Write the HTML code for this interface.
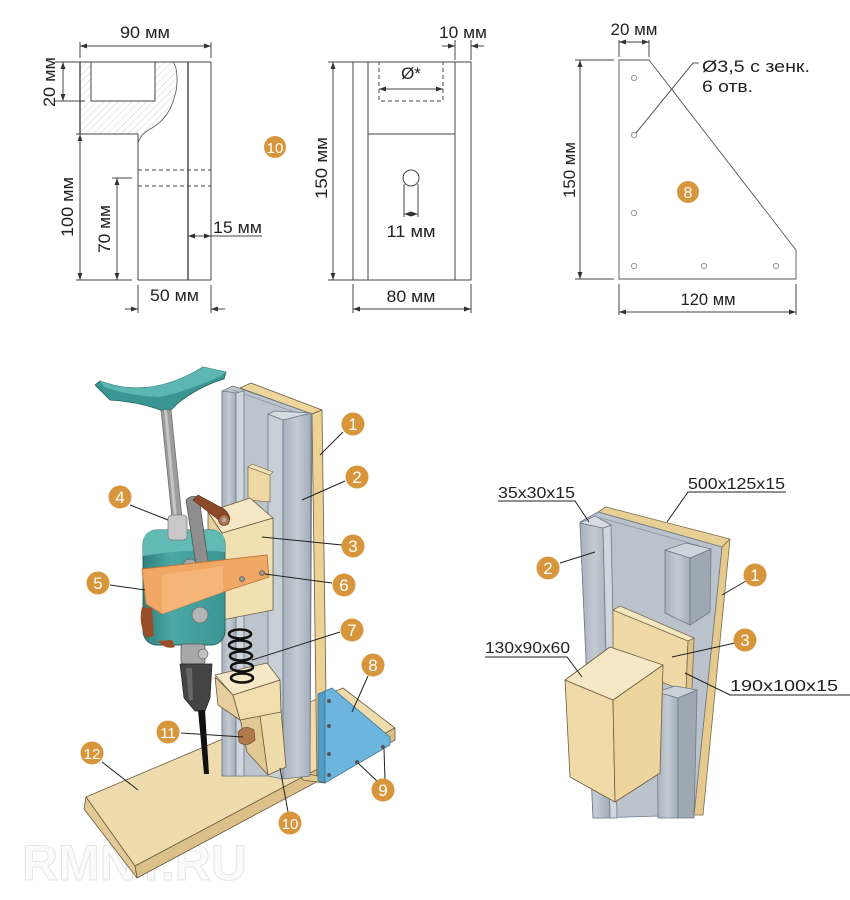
<!DOCTYPE html>
<html><head><meta charset="utf-8">
<style>
html,body{margin:0;padding:0;background:#fff}
svg{display:block}
text{font-family:"Liberation Sans",Arial,sans-serif;fill:#222}
</style></head>
<body>
<svg width="850" height="900" viewBox="0 0 850 900" xmlns="http://www.w3.org/2000/svg">
<defs>
<marker id="a" viewBox="0 0 10 10" refX="10" refY="5" markerWidth="8" markerHeight="7" orient="auto-start-reverse" markerUnits="userSpaceOnUse"><path d="M0,1.5 L10,5 L0,8.5 z" fill="#333"/></marker>
<pattern id="h" width="5" height="5" patternUnits="userSpaceOnUse" patternTransform="rotate(45)"><line x1="0" y1="0" x2="0" y2="5" stroke="#cfcfcf" stroke-width="1"/></pattern>
<linearGradient id="al" x1="0" y1="0" x2="1" y2="0"><stop offset="0" stop-color="#a7b1bc"/><stop offset="0.5" stop-color="#c3cbd3"/><stop offset="1" stop-color="#a3adb9"/></linearGradient>
<linearGradient id="tl" x1="0" y1="0" x2="1" y2="0"><stop offset="0" stop-color="#2f7f7c"/><stop offset="0.35" stop-color="#4aa9a5"/><stop offset="1" stop-color="#3a9592"/></linearGradient>
</defs>

<!-- ============ DRAWING 1 ============ -->
<g stroke="#444" stroke-width="1" fill="none">
<path d="M80,62 L173,62 C178,68 178,85 175,95 C171,112 162,122 152,128 C146,131 140,136 138,143 L138,134 L80,134 Z" fill="url(#h)" stroke="none"/>
<path d="M173,62 C178,68 178,85 175,95 C171,112 162,122 152,128 C146,131 140,136 138,143" stroke="#555" stroke-width="0.8"/>
<rect x="91" y="62" width="64" height="39" fill="#fff"/>
<line x1="80" y1="62" x2="211" y2="62"/>
<line x1="80" y1="62" x2="80" y2="134" stroke-width="1.4"/>
<line x1="76" y1="134" x2="138" y2="134"/>
<line x1="138" y1="134" x2="138" y2="280"/>
<line x1="138" y1="280" x2="211" y2="280"/>
<line x1="211" y1="62" x2="211" y2="280"/>
<line x1="188" y1="62" x2="188" y2="280" stroke-width="1.4"/>
<line x1="138" y1="170" x2="211" y2="170" stroke-dasharray="4,3"/>
<line x1="138" y1="186" x2="211" y2="186" stroke-dasharray="4,3"/>
<!-- dims -->
<line x1="80" y1="42" x2="80" y2="58"/><line x1="211" y1="42" x2="211" y2="58"/>
<line x1="80" y1="46" x2="211" y2="46" marker-start="url(#a)" marker-end="url(#a)"/>
<line x1="55" y1="62" x2="80" y2="62"/><line x1="55" y1="101" x2="85" y2="101"/>
<line x1="63" y1="62" x2="63" y2="101" marker-start="url(#a)" marker-end="url(#a)"/>
<line x1="80" y1="134" x2="80" y2="280" marker-start="url(#a)" marker-end="url(#a)"/>
<line x1="76" y1="280" x2="132" y2="280"/>
<line x1="112" y1="178" x2="132" y2="178"/>
<line x1="117" y1="178" x2="117" y2="280" marker-start="url(#a)" marker-end="url(#a)"/>
<line x1="188" y1="236" x2="211" y2="236" marker-start="url(#a)" marker-end="url(#a)"/>
<line x1="211" y1="236" x2="262" y2="236"/>
<line x1="138" y1="285" x2="138" y2="313"/><line x1="211" y1="285" x2="211" y2="313"/>
<line x1="125" y1="309" x2="138" y2="309" marker-end="url(#a)"/>
<line x1="225" y1="309" x2="211" y2="309" marker-end="url(#a)"/>
</g>
<text x="145" y="38" font-size="17" text-anchor="middle" textLength="50" lengthAdjust="spacingAndGlyphs">90 мм</text>
<text transform="translate(55,82) rotate(-90)" font-size="17" text-anchor="middle" textLength="50" lengthAdjust="spacingAndGlyphs">20 мм</text>
<text transform="translate(73,207) rotate(-90)" font-size="17" text-anchor="middle" textLength="60" lengthAdjust="spacingAndGlyphs">100 мм</text>
<text transform="translate(110,229) rotate(-90)" font-size="17" text-anchor="middle" textLength="48" lengthAdjust="spacingAndGlyphs">70 мм</text>
<text x="213" y="233" font-size="17" textLength="49" lengthAdjust="spacingAndGlyphs">15 мм</text>
<text x="150" y="301" font-size="17" textLength="49" lengthAdjust="spacingAndGlyphs">50 мм</text>
<circle cx="275" cy="147" r="11" fill="#d8963c"/>
<text x="275" y="153" font-size="15" text-anchor="middle" style="fill:#fff">10</text>

<!-- ============ DRAWING 2 ============ -->
<g stroke="#444" stroke-width="1" fill="none">
<rect x="353" y="62" width="118" height="218"/>
<line x1="368" y1="62" x2="368" y2="280"/>
<line x1="455" y1="62" x2="455" y2="280"/>
<line x1="368" y1="134" x2="455" y2="134"/>
<rect x="379" y="62" width="64" height="39" stroke-dasharray="4,3"/>
<line x1="379" y1="89" x2="443" y2="89" marker-start="url(#a)" marker-end="url(#a)"/>
<circle cx="411" cy="178" r="8"/>
<line x1="404" y1="184" x2="404" y2="217"/><line x1="418" y1="184" x2="418" y2="217"/>
<line x1="404" y1="214" x2="418" y2="214" marker-start="url(#a)" marker-end="url(#a)"/>
<line x1="455" y1="40" x2="455" y2="60"/><line x1="471" y1="40" x2="471" y2="60"/>
<line x1="442" y1="46" x2="455" y2="46" marker-end="url(#a)"/>
<line x1="484" y1="46" x2="471" y2="46" marker-end="url(#a)"/>
<line x1="328" y1="62" x2="353" y2="62"/><line x1="328" y1="280" x2="353" y2="280"/>
<line x1="333" y1="62" x2="333" y2="280" marker-start="url(#a)" marker-end="url(#a)"/>
<line x1="353" y1="284" x2="353" y2="313"/><line x1="471" y1="284" x2="471" y2="313"/>
<line x1="353" y1="309" x2="471" y2="309" marker-start="url(#a)" marker-end="url(#a)"/>
</g>
<text x="463" y="38" font-size="17" text-anchor="middle" textLength="48" lengthAdjust="spacingAndGlyphs">10 мм</text>
<text x="411" y="79" font-size="17" text-anchor="middle">Ø*</text>
<text x="411" y="237" font-size="17" text-anchor="middle" textLength="49" lengthAdjust="spacingAndGlyphs">11 мм</text>
<text transform="translate(327,168) rotate(-90)" font-size="17" text-anchor="middle" textLength="62" lengthAdjust="spacingAndGlyphs">150 мм</text>
<text x="411" y="302" font-size="17" text-anchor="middle" textLength="49" lengthAdjust="spacingAndGlyphs">80 мм</text>

<!-- ============ DRAWING 3 ============ -->
<g stroke="#444" stroke-width="1" fill="none">
<path d="M619,60 L649,60 L796,250 L796,279 L619,279 Z" stroke="#555" stroke-width="0.9"/>
<g stroke="#999" fill="#fff">
<circle cx="634" cy="78" r="2.6"/><circle cx="634" cy="135" r="2.6"/><circle cx="634" cy="213" r="2.6"/>
<circle cx="634" cy="266" r="2.6"/><circle cx="704" cy="266" r="2.6"/><circle cx="776" cy="266" r="2.6"/>
</g>
<polyline points="636,133 693,63 699,63" stroke="#555"/>
<line x1="619" y1="40" x2="619" y2="57"/><line x1="649" y1="40" x2="649" y2="57"/>
<line x1="619" y1="42" x2="649" y2="42" marker-start="url(#a)" marker-end="url(#a)"/>
<line x1="575" y1="60" x2="614" y2="60"/><line x1="575" y1="279" x2="614" y2="279"/>
<line x1="580" y1="60" x2="580" y2="279" marker-start="url(#a)" marker-end="url(#a)"/>
<line x1="619" y1="284" x2="619" y2="315"/><line x1="796" y1="284" x2="796" y2="315"/>
<line x1="619" y1="312" x2="796" y2="312" marker-start="url(#a)" marker-end="url(#a)"/>
</g>
<text x="634" y="35" font-size="17" text-anchor="middle" textLength="47" lengthAdjust="spacingAndGlyphs">20 мм</text>
<text x="702" y="72" font-size="17" textLength="108" lengthAdjust="spacingAndGlyphs">Ø3,5 с зенк.</text>
<text x="702" y="92" font-size="17" textLength="51" lengthAdjust="spacingAndGlyphs">6 отв.</text>
<text transform="translate(575,170) rotate(-90)" font-size="17" text-anchor="middle" textLength="56" lengthAdjust="spacingAndGlyphs">150 мм</text>
<text x="708" y="305" font-size="17" text-anchor="middle" textLength="55" lengthAdjust="spacingAndGlyphs">120 мм</text>
<circle cx="688" cy="192" r="11" fill="#d8963c"/>
<text x="688" y="198" font-size="16" text-anchor="middle" style="fill:#fff">8</text>

<!-- watermark -->
<text x="22" y="880" font-size="50" font-weight="bold" style="fill:#fbfbfb;stroke:#e6e6e6;stroke-width:1">RMNT.RU</text>

<!-- ============ LEFT 3D ============ -->
<g stroke="#6b5b3e" stroke-width="0.8" stroke-linejoin="round">
<!-- base 12 -->
<polygon points="86,797 343,688 395,728 135,866" fill="#efdcae"/>
<polygon points="135,866 395,728 395,740 137,878" fill="#dcc08a"/>
<polygon points="86,797 135,866 137,878 84,809" fill="#e3c995"/>
<!-- back board 1 -->
<polygon points="240,388 251,383 322,410 312,414" fill="#eed59c"/>
<polygon points="312,414 322,410 327,770 317,776" fill="#ecd294"/>
<polygon points="298,772 318,776 324,783 303,780" fill="#e3c890"/>
</g>
<g stroke="#6f7985" stroke-width="0.8" stroke-linejoin="round">
<!-- aluminium web -->
<polygon points="222,391 233,386 312,414 310,776 222,776" fill="#bcc4cd"/>
<line x1="233" y1="390" x2="300" y2="414" stroke="#8a94a0"/>
<!-- left channel -->
<polygon points="222,391 236,393 236,776 222,776" fill="url(#al)"/>
<polygon points="236,393 244,391 244,776 236,776" fill="#d0d6dd"/>
<!-- right channel -->
<polygon points="268,414 283,420 283,779 268,776" fill="#c7cfd7"/>
<polygon points="283,420 311,413 310,776 283,779" fill="url(#al)"/>
<polygon points="268,414 275,411 311,413 283,420" fill="#d6dce2"/>
</g>
<!-- plate 3 behind block -->
<polygon points="248,467 270,475 270,502 248,500" fill="#eed8a4" stroke="#7a6a4a" stroke-width="0.7"/>
<polygon points="248,467 252,464 273,472 270,475" fill="#f3e3bb" stroke="#7a6a4a" stroke-width="0.6"/>
<!-- lower block 10 -->
<g stroke="#6b5b3e" stroke-width="0.8" stroke-linejoin="round">
<polygon points="240,718 260,716 268,775 247,752" fill="#e2c994"/>
<polygon points="260,716 281,710 286,767 268,775" fill="#efdcab"/>
<polygon points="215,677 233,695 240,720 218,705" fill="#e6cf9c"/>
<polygon points="233,695 280,680 281,712 240,720" fill="#f0dead"/>
<polygon points="215,675 267,663 280,680 233,695" fill="#f6e8c6"/>
</g>
<!-- spring -->
<g fill="none" stroke="#111" stroke-width="2.6">
<ellipse cx="240" cy="634" rx="11" ry="4.5"/>
<ellipse cx="240" cy="645" rx="11" ry="4.5"/>
<ellipse cx="241" cy="656" rx="11" ry="4.5"/>
<ellipse cx="242" cy="667" rx="11" ry="4.5"/>
<ellipse cx="242" cy="678" rx="11" ry="4.5"/>
</g>
<!-- plate 8 -->
<polygon points="318,694 325,691 325,783 318,781" fill="#4f9cc4" stroke="#3c6f8c" stroke-width="0.7"/>
<polygon points="325,691 332,688 390,737 390,745 325,783" fill="#6cb6dd" stroke="#3c6f8c" stroke-width="0.7"/>
<g fill="#555"><circle cx="329" cy="701" r="2"/><circle cx="329" cy="726" r="2"/><circle cx="329" cy="754" r="2"/><circle cx="329" cy="775" r="2"/><circle cx="357" cy="762" r="2"/><circle cx="383" cy="747" r="2"/></g>
<!-- block 3 -->
<g stroke="#6b5b3e" stroke-width="0.8" stroke-linejoin="round">
<polygon points="208,512 222,533 222,620 208,605" fill="#e5cf9c"/>
<polygon points="222,533 273,518 273,610 222,620" fill="#f1e0b2"/>
<polygon points="208,512 250,498 273,518 222,533" fill="#f6e8c6"/>
</g>
<!-- drill handle -->
<path d="M95,385 L100,381 Q150,400 203,367 L226,372 L224,379 Q200,386 178,403 L170,411 L163,411 Q140,402 110,400 Z" fill="#3a9693" stroke="#24605e" stroke-width="0.8"/>
<path d="M100,381 Q150,400 203,367 L226,372 L221,376 Q185,392 160,397 Q130,396 104,387 Z" fill="#5cb7b2"/>
<!-- stem -->
<polygon points="161,410 171,410 182,518 172,518" fill="#9c9c9c" stroke="#666" stroke-width="0.7"/>
<polygon points="164,410 167,410 177,518 174,518" fill="#c6c6c6"/>
<!-- drill body -->
<rect x="143" y="530" width="82" height="115" rx="14" fill="url(#tl)" stroke="#24605e" stroke-width="0.9"/>
<path d="M157,530 L211,530 Q225,530 225,544 L225,552 Q190,548 143,556 L143,544 Q143,530 157,530 Z" fill="#62bab5"/>
<rect x="168" y="515" width="19" height="25" rx="4" fill="#c9c9c9" stroke="#777" stroke-width="0.7"/>
<circle cx="190" cy="566" r="7" fill="#aaa" stroke="#666" stroke-width="0.7"/>
<circle cx="200" cy="615" r="8" fill="#b5b5b5" stroke="#666" stroke-width="0.7"/>
<path d="M142,607 Q138,622 146,638 L154,636 L152,608 Z" fill="#9a4e28"/>
<path d="M158,641 Q165,650 175,647 L172,640 Z" fill="#9a4e28"/>
<!-- chuck -->
<rect x="181" y="644" width="24" height="20" rx="3" fill="#a8a8a8" stroke="#555" stroke-width="0.7"/>
<circle cx="203" cy="654" r="5" fill="#c0c0c0" stroke="#555" stroke-width="0.6"/>
<path d="M180,664 L212,664 L210,698 L205,711 L195,711 L184,698 Z" fill="#444" stroke="#222" stroke-width="0.7"/>
<path d="M186,668 L192,668 L193,700 L189,700 Z" fill="#666"/>
<polygon points="198,710 205,710 209,774 204,774" fill="#111"/>
<!-- lever + grip -->
<path d="M186,500 Q192,494 199,498 L210,575 Q205,583 198,578 Z" fill="#8e8e8e" stroke="#555" stroke-width="0.8"/>
<path d="M193,500 L219,520 Q226,526 230,519 Q228,510 220,507 L198,495 Z" fill="#8c4a2a" stroke="#5a2d15" stroke-width="0.7"/>
<circle cx="224" cy="520" r="5.5" fill="#b07048" stroke="#5a2d15" stroke-width="0.6"/>
<circle cx="224" cy="520" r="2.5" fill="#aaa"/>
<circle cx="203" cy="576" r="4" fill="#bbb" stroke="#555" stroke-width="0.6"/>
<!-- orange band -->
<path d="M142,569 L267,555 L269,577 L223,592 L162,614 L146,604 Z" fill="#f2a865" stroke="#b8763b" stroke-width="0.9"/>
<path d="M162,575 L223,566 L223,592 L162,614 Z" fill="#f6b479"/>
<circle cx="242" cy="579" r="2.5" fill="#999" stroke="#444" stroke-width="0.6"/>
<circle cx="262" cy="573" r="2.5" fill="#999" stroke="#444" stroke-width="0.6"/>
<!-- wing nut -->
<path d="M238,732 Q245,724 254,730 L255,740 Q246,748 239,742 Z" fill="#b07a4a" stroke="#6b4a2a" stroke-width="0.7"/>

<!-- labels left -->
<g stroke="#222" stroke-width="1">
<line x1="343" y1="432" x2="320" y2="455"/>
<line x1="345" y1="481" x2="302" y2="500"/>
<line x1="342" y1="545" x2="262" y2="537"/>
<line x1="130" y1="505" x2="168" y2="520"/>
<line x1="110" y1="585" x2="145" y2="590"/>
<line x1="332" y1="583" x2="265" y2="574"/>
<line x1="340" y1="632" x2="252" y2="660"/>
<line x1="368" y1="676" x2="352" y2="712"/>
<line x1="378" y1="782" x2="358" y2="763"/>
<line x1="385" y1="779" x2="384" y2="749"/>
<line x1="288" y1="812" x2="280" y2="768"/>
<line x1="181" y1="733" x2="243" y2="737"/>
<line x1="102" y1="762" x2="138" y2="790"/>
</g>
<g fill="#d8963c">
<circle cx="353" cy="424" r="11.5"/><circle cx="357" cy="477" r="11.5"/><circle cx="353" cy="546" r="11.5"/>
<circle cx="120" cy="497" r="11.5"/><circle cx="98" cy="583" r="11.5"/><circle cx="344" cy="585" r="11.5"/>
<circle cx="352" cy="630" r="11.5"/><circle cx="373" cy="665" r="11.5"/><circle cx="383" cy="790" r="11.5"/>
<circle cx="290" cy="823" r="11.5"/><circle cx="168" cy="732" r="11.5"/><circle cx="92" cy="753" r="11.5"/>
</g>
<g font-size="17" text-anchor="middle" style="fill:#fff">
<text x="353" y="430" style="fill:#fff">1</text><text x="357" y="483" style="fill:#fff">2</text><text x="353" y="552" style="fill:#fff">3</text>
<text x="120" y="503" style="fill:#fff">4</text><text x="98" y="589" style="fill:#fff">5</text><text x="344" y="591" style="fill:#fff">6</text>
<text x="352" y="636" style="fill:#fff">7</text><text x="373" y="671" style="fill:#fff">8</text><text x="383" y="796" style="fill:#fff">9</text>
<text x="290" y="829" font-size="15" style="fill:#fff">10</text><text x="168" y="738" font-size="15" style="fill:#fff">11</text><text x="92" y="759" font-size="15" style="fill:#fff">12</text>
</g>

<!-- ============ RIGHT 3D ============ -->
<g stroke-linejoin="round" stroke-width="0.8">
<polygon points="598,512 606,507 730,539 722,547" fill="#e8cf96" stroke="#7a6a4a"/>
<polygon points="722,547 730,539 703,815 694,815" fill="#e6c98c" stroke="#7a6a4a"/>
<polygon points="580,522 598,512 722,547 694,815 593,818" fill="#bac2cc" stroke="#6f7985"/>
<polyline points="600,518 612,521 700,546" fill="none" stroke="#8a94a0"/>
<polygon points="580,523 603,528 610,818 593,818" fill="url(#al)" stroke="#6f7985"/>
<polygon points="603,528 611,525 617,818 610,818" fill="#d0d6dd" stroke="#6f7985"/>
<polygon points="580,523 595,516 611,525 603,528" fill="#d8dde3" stroke="#6f7985"/>
<!-- upper right stub -->
<polygon points="665,550 690,558 690,625 665,613" fill="url(#al)" stroke="#6f7985"/>
<polygon points="690,558 711,549 710,612 690,625" fill="#9ea8b3" stroke="#6f7985"/>
<polygon points="665,550 686,543 711,549 690,558" fill="#cfd5dc" stroke="#6f7985"/>
<!-- plate 3 -->
<polygon points="613,610 688,641 686,692 613,662" fill="#efd9a6" stroke="#7a6a4a"/>
<polygon points="688,641 694,638 692,690 686,692" fill="#dfc38a" stroke="#7a6a4a"/>
<polygon points="613,610 620,606 694,638 688,641" fill="#f5e6c2" stroke="#7a6a4a"/>
<!-- lower right channel -->
<polygon points="657,692 678,698 678,818 658,818" fill="url(#al)" stroke="#6f7985"/>
<polygon points="678,698 697,690 694,818 678,818" fill="#9ea8b3" stroke="#6f7985"/>
<polygon points="657,692 675,686 697,690 678,698" fill="#cbd2d9" stroke="#6f7985"/>
<!-- block -->
<polygon points="565,680 613,700 615,802 570,777" fill="#f0dba8" stroke="#6b5b3e"/>
<polygon points="613,700 663,665 660,773 615,802" fill="#eed59e" stroke="#6b5b3e"/>
<polygon points="565,680 610,647 663,665 613,700" fill="#f6e8c6" stroke="#6b5b3e"/>
</g>
<!-- right labels -->
<g stroke="#222" stroke-width="1" fill="none">
<polyline points="498,501 575,501 589,522"/>
<polyline points="786,492 688,492 667,522"/>
<polyline points="485,657 567,657 582,677"/>
<polyline points="850,695 730,695 685,673"/>
<line x1="560" y1="563" x2="595" y2="552"/>
<line x1="746" y1="581" x2="722" y2="595"/>
<line x1="735" y1="643" x2="672" y2="657"/>
</g>
<text x="498" y="498" font-size="16" textLength="77" lengthAdjust="spacingAndGlyphs">35x30x15</text>
<text x="688" y="489" font-size="16" textLength="97" lengthAdjust="spacingAndGlyphs">500x125x15</text>
<text x="485" y="653" font-size="16" textLength="85" lengthAdjust="spacingAndGlyphs">130x90x60</text>
<text x="730" y="691" font-size="16" textLength="108" lengthAdjust="spacingAndGlyphs">190x100x15</text>
<g fill="#d8963c"><circle cx="548" cy="568" r="11.5"/><circle cx="755" cy="575" r="11.5"/><circle cx="745" cy="640" r="11.5"/></g>
<text x="548" y="574" font-size="17" text-anchor="middle" style="fill:#fff">2</text>
<text x="755" y="581" font-size="17" text-anchor="middle" style="fill:#fff">1</text>
<text x="745" y="646" font-size="17" text-anchor="middle" style="fill:#fff">3</text>
</svg>
</body></html>
